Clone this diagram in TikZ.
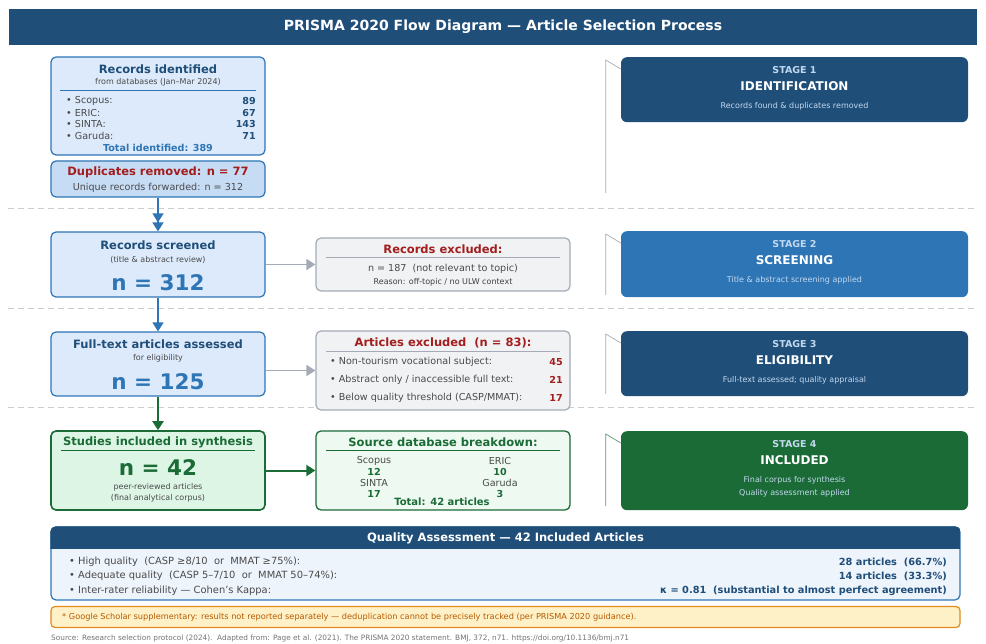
\documentclass[tikz,border=0pt]{standalone}
\usepackage{fontspec}
\setmainfont{DejaVu Sans}
\usepackage{tikz}
\usetikzlibrary{arrows.meta,positioning,calc}

\definecolor{navy}{HTML}{1F4E79}
\definecolor{midblue}{HTML}{2E75B6}
\definecolor{paleblue}{HTML}{DCEAFB}
\definecolor{dupblue}{HTML}{C6DCF5}
\definecolor{greyline}{HTML}{A4ABB6}
\definecolor{greyfill}{HTML}{F1F2F4}
\definecolor{darkred}{HTML}{A31D1D}
\definecolor{txtgrey}{HTML}{4A4A4A}
\definecolor{forest}{HTML}{1B6B37}
\definecolor{palegreen}{HTML}{DDF5E5}
\definecolor{mintfill}{HTML}{EEFAF1}
\definecolor{stagetxt}{HTML}{C2D8EE}
\definecolor{dashgrey}{HTML}{CCCCCC}
\definecolor{qabody}{HTML}{EEF4FC}
\definecolor{notefill}{HTML}{FFF1C7}
\definecolor{noteline}{HTML}{E28A1E}
\definecolor{notetxt}{HTML}{B55A00}

\begin{document}
\begin{tikzpicture}[x=1pt, y=-1pt,
  box/.style={draw=midblue, line width=1.2pt, rounded corners=5pt, fill=paleblue, inner sep=0pt},
  greybox/.style={box, draw=greyline, fill=greyfill},
  greenbox/.style={box, draw=forest, line width=1.6pt, fill=palegreen},
  stagebox/.style={rounded corners=6pt, inner sep=0pt, minimum width=347pt},
  ttl/.style={font=\fontsize{11.5}{13}\selectfont\bfseries, text=navy, inner sep=0pt},
  sub/.style={font=\fontsize{8}{9}\selectfont, text=txtgrey, inner sep=0pt},
  body/.style={font=\fontsize{9.6}{11}\selectfont, text=txtgrey, inner sep=0pt},
  big/.style={font=\fontsize{21.5}{24}\selectfont\bfseries, text=midblue, inner sep=0pt},
  val/.style={font=\fontsize{9.6}{11}\selectfont\bfseries, text=navy, inner sep=0pt, anchor=east},
  item/.style={body, anchor=west},
  stg/.style={font=\fontsize{9.5}{11}\selectfont\bfseries, text=stagetxt, inner sep=0pt},
  stgname/.style={font=\fontsize{12}{14}\selectfont\bfseries, text=white, inner sep=0pt},
  stgsub/.style={font=\fontsize{8}{13}\selectfont, text=stagetxt, inner sep=0pt, align=center},
  splitline/.style={line width=0.6pt},
  gapline/.style={dashgrey, dash pattern=on 6pt off 4pt, line width=0.8pt},
  sideline/.style={line width=0.7pt},
  arr/.style={-{Triangle[length=9pt,width=11pt]}, line width=1.3pt, draw=midblue},
  greyarr/.style={arr, draw=greyline, line width=1.5pt},
  greenarr/.style={arr, draw=forest, line width=2pt}]

\useasboundingbox (0,0) rectangle (986,644);

% title bar
\node[fill=navy, minimum width=968pt, minimum height=36pt, inner sep=0pt] (head) at (493,27) {};
\node[text=white, inner sep=0pt, font=\fontsize{14}{16}\selectfont\bfseries] (headtxt) at (503,27)
  {PRISMA 2020 Flow Diagram — Article Selection Process};

% stage separators
\foreach \y in {208,308,407} \draw[gapline] (8,\y) -- (977,\y);

% identification
\node[box, minimum width=214pt, minimum height=98pt] (ident) at (158,106) {};
\node[ttl] at (158,69) {Records identified};
\node[sub] at (158,82) {from databases (Jan–Mar 2024)};
\draw[midblue, splitline] (60,90) -- (256,90);
\foreach \db/\n/\y in {Scopus/89/101, ERIC/67/113, SINTA/143/124, Garuda/71/136}{
  \node[item] at (66,\y) {• \db:};
  \node[val] at (256,\y) {\n};
}
\node[val, anchor=center, text=midblue] at (158,148) {Total identified: 389};

\node[box, fill=dupblue, minimum width=214pt, minimum height=36pt] (dup) at (158,179) {};
\node[ttl, text=darkred] at (158,172) {Duplicates removed: n = 77};
\node[body] at (158,188) {Unique records forwarded: n = 312};

% screening
\node[box, minimum width=214pt, minimum height=65pt] (scr) at (158,264.5) {};
\node[ttl] at (158,245) {Records screened};
\node[sub] at (158,260) {(title \& abstract review)};
\node[big] at (158,283) {n = 312};

\node[greybox, minimum width=254pt, minimum height=53pt] (exc1) at (443,264.5) {};
\node[ttl, text=darkred] at (443,249) {Records excluded:};
\draw[greyline, splitline] (326,257) -- (560,257);
\node[body] at (443,268.5) {n = 187~~(not relevant to topic)};
\node[sub, text=black!75] at (443,282) {Reason: off-topic / no ULW context};

% eligibility
\node[box, minimum width=214pt, minimum height=64pt] (full) at (158,364) {};
\node[ttl] at (158,344) {Full-text articles assessed};
\node[sub] at (158,358) {for eligibility};
\node[big] at (158,382) {n = 125};

\node[greybox, minimum width=254pt, minimum height=79pt] (exc2) at (443,370.5) {};
\node[ttl, text=darkred] at (443,343) {Articles excluded~~(n = 83):};
\draw[greyline, splitline] (326,351) -- (560,351);
\foreach \r/\n/\y in {{Non-tourism vocational subject}/45/362,
    {Abstract only / inaccessible full text}/21/380,
    {Below quality threshold (CASP/MMAT)}/17/398}{
  \node[item] at (330,\y) {• \r:};
  \node[val, text=darkred] at (563,\y) {\n};
}

% included
\node[greenbox, minimum width=214pt, minimum height=79pt] (incl) at (158,470.5) {};
\node[ttl, text=forest] at (158,442) {Studies included in synthesis};
\draw[forest, splitline] (61,450) -- (255,450);
\node[big, text=forest] at (158,468) {n = 42};
\node[sub] at (158,487) {peer-reviewed articles};
\node[sub] at (158,498) {(final analytical corpus)};

\node[greenbox, fill=mintfill, line width=1.3pt, minimum width=254pt, minimum height=79pt] (src) at (443,470.5) {};
\node[ttl, text=forest] at (443,442) {Source database breakdown:};
\draw[forest, splitline] (326,450) -- (560,450);
\foreach \db/\n/\x/\y in {Scopus/12/374/461, ERIC/10/500/461, SINTA/17/374/483, Garuda/3/500/483}{
  \node[body] at (\x,\y) {\db};
  \node[val, anchor=center, text=forest] at (\x,\y+11) {\n};
}
\node[val, anchor=center, text=forest, font=\fontsize{10}{12}\selectfont\bfseries] at (442,502) {Total: 42 articles};

% stage panels
\foreach \s/\col/\yt/\h/\num/\name/\txt in {
    s1/navy/57/65/1/IDENTIFICATION/{Records found \& duplicates removed},
    s2/midblue/231/66/2/SCREENING/{Title \& abstract screening applied},
    s3/navy/331/65/3/ELIGIBILITY/{Full-text assessed; quality appraisal},
    s4/forest/431/79/4/INCLUDED/{Final corpus for synthesis\\Quality assessment applied}}{
  \node[stagebox, fill=\col, minimum height=\h pt, anchor=north] (\s) at (794.5,\yt) {};
  \node[stg] at ($(\s.north)+(0,13)$) {STAGE \num};
  \node[stgname] at ($(\s.north)+(0,29.5)$) {\name};
  \node[stgsub, anchor=north] at ($(\s.north)+(0,45)$) {\txt};
}
\foreach \s/\len/\col in {s1/133/greyline, s2/61/greyline, s3/60/greyline, s4/72/forest!70}
  \draw[sideline, draw=\col] ($(\s.north west)+(0,12)$) -- ++(-15,-9) -- ++(0,\len);

% connectors
\draw[arr, -{Triangle[length=9pt,width=11pt] Triangle[length=9pt,width=11pt]}] (dup) -- (scr);
\draw[arr] (scr) -- (full);
\draw[greyarr] (scr.east) -- (exc1.west);
\draw[greyarr] (full.east |- exc2.west) -- (exc2.west);
\draw[greenarr] (full) -- (incl);
\draw[greenarr] (incl) -- (src);

% quality assessment
\node[box, fill=qabody, minimum width=909pt, minimum height=73pt] (qa) at (505.5,563.5) {};
\begin{scope}
  \clip[rounded corners=5pt] (qa.south west) rectangle (qa.north east);
  \fill[navy] (qa.north west) rectangle ($(qa.north east)+(0,23)$);
\end{scope}
\node[font=\fontsize{11.5}{13}\selectfont\bfseries, text=white] (qatitle) at (505.5,538.5)
  {Quality Assessment — 42 Included Articles};
\foreach \q/\v/\y in {
    {High quality~~(CASP ≥8/10~~or~~MMAT ≥75\%):}/{28 articles~~(66.7\%)}/562,
    {Adequate quality~~(CASP 5–7/10~~or~~MMAT 50–74\%):}/{14 articles~~(33.3\%)}/576,
    {Inter-rater reliability — Cohen's Kappa:}/{κ = 0.81~~(substantial to almost perfect agreement)}/591}{
  \node[item, font=\fontsize{9.9}{11}\selectfont] at (69,\y) {• \q};
  \node[val, font=\fontsize{9.8}{11}\selectfont\bfseries] at (947,\y) {\v};
}

% footnote and source
\node[draw=noteline, line width=1.2pt, fill=notefill, rounded corners=4pt,
  minimum width=909pt, minimum height=21pt, inner sep=0pt] (note) at (505.5,617) {};
\node[font=\fontsize{8.2}{9}\selectfont, text=notetxt, anchor=west, inner sep=0pt] at (62,617.5)
  {* Google Scholar supplementary: results not reported separately — deduplication cannot be precisely tracked (per PRISMA 2020 guidance).};
\node[font=\fontsize{7.35}{8}\selectfont, text=black!55, anchor=west, inner sep=0pt] at (51,638)
  {Source: Research selection protocol (2024).~~Adapted from: Page et al. (2021). The PRISMA 2020 statement. BMJ, 372, n71. https://doi.org/10.1136/bmj.n71};
\end{tikzpicture}
\end{document}
